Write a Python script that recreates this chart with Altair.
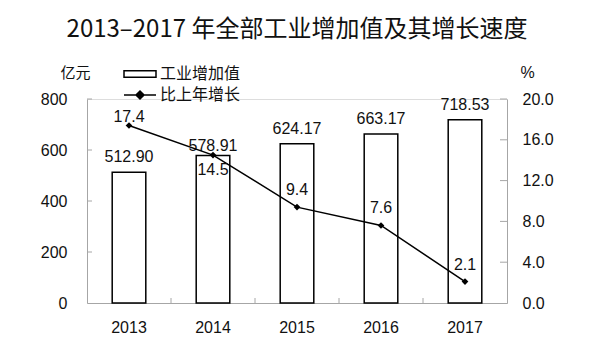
import altair as alt
import pandas as pd

years = ["2013", "2014", "2015", "2016", "2017"]
value_added = [512.90, 578.91, 624.17, 663.17, 718.53]
growth = [17.4, 14.5, 9.4, 7.6, 2.1]
left_ticks = [0, 200, 400, 600, 800]
right_ticks = [0, 4, 8, 12, 16, 20]
series_names = ["工业增加值", "比上年增长"]

df = pd.DataFrame({
    "year": years,
    "value": value_added,
    "growth": growth,
    "value_label": [f"{v:.2f}" for v in value_added],
    "growth_label": [f"{g:.1f}" for g in growth],
    "s_bar": [series_names[0]] * len(years),
    "s_line": [series_names[1]] * len(years),
})
lt = pd.DataFrame({"value": left_ticks[1:]})
rt = pd.DataFrame({"growth": right_ticks[1:]})

FONT = "Liberation Sans"
CJK = "Noto Sans CJK SC"
TXT = "#111111"
AX = "#a6a6a6"

x_enc = alt.X(
    "year:N",
    scale=alt.Scale(paddingInner=0, paddingOuter=0),
    axis=alt.Axis(title=None, labelAngle=0, ticks=False, tickSize=0, domainColor=AX,
                  labelPadding=16, labelFontSize=16, labelFont=FONT, labelColor=TXT),
)
left_scale = alt.Scale(domain=[0, 800])
right_scale = alt.Scale(domain=[0, 20])
left_axis = alt.Axis(values=left_ticks, title="亿元", titleAngle=0, titleX=-12, titleY=-27,
                     titleAlign="center", titleBaseline="middle", titleFont=CJK,
                     titleFontSize=15, titleFontWeight="normal", titleColor=TXT,
                     ticks=False, tickSize=0, grid=False, domainColor=AX, labelPadding=20,
                     labelFontSize=16, labelFont=FONT, labelColor=TXT)
right_axis = alt.Axis(orient="right", values=right_ticks, format=".1f", title="%", titleAngle=0,
                      titleX=20, titleY=-27, titleAlign="center", titleBaseline="middle",
                      titleFont=FONT, titleFontSize=16, titleFontWeight="normal", titleColor=TXT,
                      ticks=False, tickSize=0, grid=False, domainColor=AX, labelPadding=15,
                      labelFontSize=16, labelFont=FONT, labelColor=TXT)
yl = alt.Y("value:Q", scale=left_scale, axis=left_axis)
yr = alt.Y("growth:Q", scale=right_scale, axis=right_axis)

base = alt.Chart(df)

bars = base.mark_bar(width=alt.RelativeBandSize(0.4), stroke="black", strokeWidth=1.5).encode(
    x=x_enc,
    y=yl,
    fill=alt.Fill("s_bar:N", scale=alt.Scale(range=["white"]),
                  legend=alt.Legend(orient="none", legendX=36, legendY=-42, title=None,
                                    symbolType="M-1,-0.2H1V0.2H-1Z", symbolSize=1024,
                                    symbolStrokeColor="black", symbolStrokeWidth=1.5,
                                    labelFont=CJK, labelFontSize=16, labelColor=TXT,
                                    labelOffset=3, padding=0)),
)

vlabel_main = base.transform_filter(alt.datum.year != "2014").mark_text(
    font=FONT, fontSize=16, color=TXT, dy=-15, baseline="middle").encode(
    x="year:N", y=yl, text="value_label:N")
vlabel_2014 = base.transform_filter(alt.datum.year == "2014").mark_text(
    font=FONT, fontSize=16, color=TXT, dy=-9, baseline="middle").encode(
    x="year:N", y=yl, text="value_label:N")

left_tick_rules = alt.Chart(lt).mark_rule(color=AX, strokeWidth=1).encode(
    y=yl, x=alt.value(0), x2=alt.value(5))
x_tick_rules = base.transform_filter(alt.datum.year != "2013").mark_rule(color=AX, strokeWidth=1).encode(
    x=alt.X("year:N", bandPosition=0), y=alt.value(204), y2=alt.value(199))

left_group = alt.layer(bars, vlabel_main, vlabel_2014, left_tick_rules, x_tick_rules)

line = base.mark_line(strokeWidth=1.5).encode(
    x="year:N",
    y=yr,
    stroke=alt.Stroke("s_line:N", scale=alt.Scale(range=["black"]),
                      legend=alt.Legend(orient="none", legendX=36, legendY=-21, title=None,
                                        symbolType="M-1,0H1M0,-0.25L0.25,0L0,0.25L-0.25,0Z",
                                        symbolSize=1024, symbolOpacity=1,
                                        symbolFillColor="black", symbolStrokeColor="black",
                                        symbolStrokeWidth=1.5, labelFont=CJK, labelFontSize=16,
                                        labelColor=TXT, labelOffset=3, padding=0)),
)
points = base.mark_point(shape="diamond", filled=True, color="black", size=45, opacity=1).encode(
    x="year:N", y=yr)
g_main = base.transform_filter("datum.year != '2013' && datum.year != '2014'").mark_text(
    font=FONT, fontSize=16, color=TXT, dy=-17, baseline="middle").encode(
    x="year:N", y=yr, text="growth_label:N")
g_2013 = base.transform_filter(alt.datum.year == "2013").mark_text(
    font=FONT, fontSize=16, color=TXT, dy=-9, baseline="middle").encode(
    x="year:N", y=yr, text="growth_label:N")
g_2014 = base.transform_filter(alt.datum.year == "2014").mark_text(
    font=FONT, fontSize=16, color=TXT, dy=15, baseline="middle").encode(
    x="year:N", y=yr, text="growth_label:N")
right_tick_rules = alt.Chart(rt).mark_rule(color=AX, strokeWidth=1).encode(
    y=yr, x=alt.value(413), x2=alt.value(420))

right_group = alt.layer(line, points, g_main, g_2013, g_2014, right_tick_rules)

chart = alt.layer(left_group, right_group).resolve_scale(
    y="independent", fill="independent", stroke="independent"
).properties(
    width=420, height=204,
    title=alt.TitleParams("2013–2017 年全部工业增加值及其增长速度", font=CJK, fontSize=24,
                          fontWeight="normal", color=TXT, anchor="middle", offset=15),
    autosize=alt.AutoSizeParams(type="none"),
    padding={"left": 87, "top": 99, "right": 89, "bottom": 48},
).configure_view(stroke=None).configure(background="white")

chart.save("out.html", embed_options={"renderer": "svg", "actions": False})
